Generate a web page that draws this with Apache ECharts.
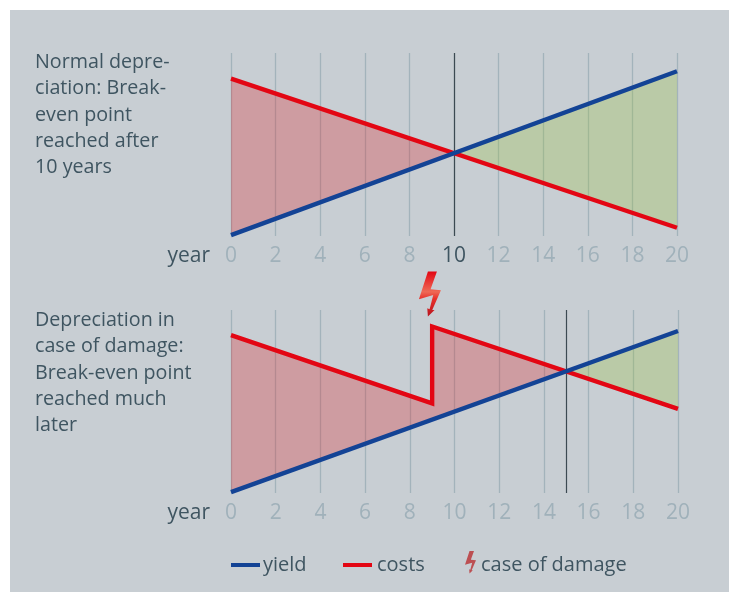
<!DOCTYPE html>
<html><head><meta charset="utf-8">
<style>html,body{margin:0;padding:0;background:#fff}#c{width:732px;height:592px}</style>
<script src="https://cdn.jsdelivr.net/npm/echarts@6/dist/echarts.min.js"></script>
</head><body><div id="c"></div>
<script>
const yearTicks = [0,2,4,6,8,10,12,14,16,18,20];
const normalYield = [[0,0.5],[20,90]];
const normalCosts = [[0,86],[20,4.5]];
const normalBreakEven = [10,45.25];
const damageYield = [[0,0.5],[20,88.5]];
const damageCosts = [[0,86.3],[9,49],[9,91],[20,46]];
const damageBreakEven = [15,66.5];
const damageMark = [[8.9,108.7]];
const normalText = ['Normal depre-','ciation: Break-','even point','reached after','10 years'];
const damageText = ['Depreciation in','case of damage:','Break-even point','reached much','later'];

const FONT = '"Open Sans", "Noto Sans", sans-serif';
const DARK = '#3f5561', TICK = '#a0b1ba', GRID = '#a3b3bb';
const BOLT = 'path://M85 35 L112 35 L93 88 L124 91 L98 150 L105 150 L85 170 L83 145 L90 148 L101 105 L58 118 Z';

function polygonSeries(idx, pts, color){
  return {type:'custom', xAxisIndex:idx, yAxisIndex:idx, silent:true, z:2, clip:false,
    data:[pts[0]],
    encode:{x:0,y:1},
    renderItem:(p,api)=>({type:'polygon',
      shape:{points:pts.map(q=>api.coord(q))},
      style:{fill:color}})};
}
function lineSeries(idx,name,data,color,z,mark){
  const s={type:'line',name,xAxisIndex:idx,yAxisIndex:idx,data,showSymbol:false,symbol:'none',z,
    silent:true,lineStyle:{color,width:4.4,cap:'butt',join:'miter'},itemStyle:{color}};
  if(mark!==undefined) s.markLine={silent:true,symbol:'none',animation:false,z:1,label:{show:false},
    lineStyle:{color:'#3c4a52',width:1.2,type:'solid'},data:[{xAxis:mark}]};
  return s;
}
function xAxis(idx,gridIdx,dark){
  return {type:'value',gridIndex:gridIdx,min:0,max:20,interval:2,
    name:'year',nameLocation:'start',nameGap:21,nameMoveOverlap:false,
    nameTextStyle:{color:DARK,fontFamily:FONT,fontSize:21,verticalAlign:'top',padding:[10,0,0,0]},
    axisLine:{show:false},axisTick:{show:false},
    splitLine:{show:true,lineStyle:{color:GRID,width:1.3}},
    axisLabel:{margin:10,fontFamily:FONT,fontSize:21,color:TICK,
      formatter:v=>v===dark?'{d|'+yearTicks[yearTicks.indexOf(v)]+'}':String(v),
      rich:{d:{color:DARK,fontFamily:FONT,fontSize:21}}}};
}
function yAxis(gridIdx){
  return {type:'value',gridIndex:gridIdx,min:0,max:100,show:false,splitLine:{show:false}};
}
function textBlock(lines,top){
  return lines.map((t,i)=>({type:'text',left:35,top:top+i*26.25,silent:true,
    style:{text:t,fill:DARK,font:'19.7px '+FONT}}));
}
const boltFill = {type:'linear',x:0,y:0,x2:0,y2:1,colorStops:[
  {offset:0,color:'#e30613'},{offset:.45,color:'#ee6a56'},{offset:.6,color:'#e8322c'},{offset:1,color:'#b8141e'}]};

const option = {
  animation:false,
  backgroundColor:'#fff',
  graphic:[
    {type:'rect',z:-10,silent:true,shape:{x:10,y:10,width:719,height:582},style:{fill:'#c8ced3'}},
    ...textBlock(normalText,52.5),
    ...textBlock(damageText,310.5)
  ],
  grid:[
    {left:231,width:446,top:53,height:183},
    {left:231,width:447,top:310,height:183}
  ],
  xAxis:[xAxis(0,0,10),xAxis(1,1,-1)],
  yAxis:[yAxis(0),yAxis(1)],
  legend:[
    {data:[{name:'yield'}],padding:0,left:231,top:555,itemWidth:29,itemHeight:4,itemGap:3,icon:'rect',
      textStyle:{color:DARK,fontFamily:FONT,fontSize:20,padding:[0,0,0,-2]}},
    {data:[{name:'costs'}],padding:0,left:343,top:555,itemWidth:29,itemHeight:4,icon:'rect',
      textStyle:{color:DARK,fontFamily:FONT,fontSize:20}},
    {data:[{name:'case of damage',icon:BOLT,itemStyle:{color:'#bc4f52'}}],padding:0,left:465,top:551,itemWidth:11,itemHeight:25,
      formatter:n=>'{a|'+n+'}',
      textStyle:{color:DARK,fontFamily:FONT,fontSize:20,
        rich:{a:{color:DARK,fontFamily:FONT,fontSize:20,padding:[6,0,0,0]}}}}
  ],
  series:[
    polygonSeries(0,[normalCosts[0],normalBreakEven,normalYield[0]],'rgba(223,40,47,.3)'),
    polygonSeries(0,[normalBreakEven,normalYield[1],normalCosts[1]],'rgba(157,193,67,.3)'),
    polygonSeries(1,[damageCosts[0],damageCosts[1],damageCosts[2],damageBreakEven,damageYield[0]],'rgba(223,40,47,.3)'),
    polygonSeries(1,[damageBreakEven,damageYield[1],damageCosts[3]],'rgba(157,193,67,.3)'),
    lineSeries(0,'costs',normalCosts,'#e30613',4),
    lineSeries(0,'yield',normalYield,'#134395',5,10),
    lineSeries(1,'costs',damageCosts,'#e30613',4),
    lineSeries(1,'yield',damageYield,'#134395',5,15),
    {type:'scatter',name:'case of damage',xAxisIndex:1,yAxisIndex:1,data:damageMark,clip:false,silent:true,z:6,
      symbol:BOLT,symbolSize:[22,45],itemStyle:{color:boltFill,opacity:1}}
  ]
};
const chart = echarts.init(document.getElementById('c'),null,{renderer:'canvas'});
chart.setOption(option);
</script></body></html>
